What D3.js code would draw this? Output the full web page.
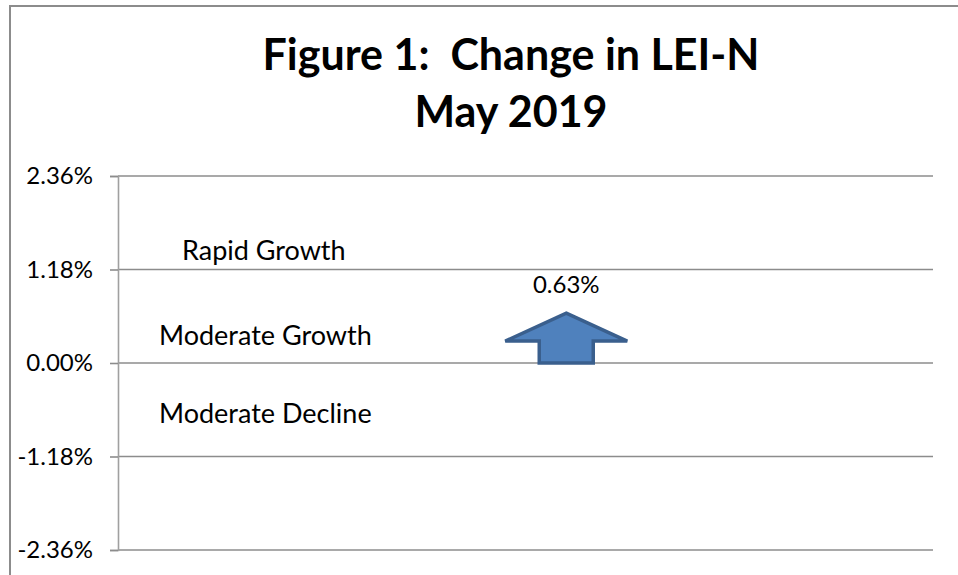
<!DOCTYPE html>
<html>
<head>
<meta charset="utf-8">
<script src="https://cdn.jsdelivr.net/npm/d3@7"></script>
<style>
  body { margin: 0; background: #fff; }
  text { font-family: Lato, "Open Sans", sans-serif; fill: #000; white-space: pre; }
</style>
</head>
<body>
<svg id="chart" width="958" height="575"></svg>
<script>
// chart values
const titleLines = ["Figure 1:  Change in LEI-N", "May 2019"];
const tickValues = [2.36, 1.18, 0, -1.18, -2.36];
const zoneLabels = ["Rapid Growth", "Moderate Growth", "Moderate Decline"];
const zoneValues = [1.3, 0.23, -0.76];
const changeValue = [0.63];
const changePos = [0.55];

const width = 958, height = 575;
const margin = {top: 176, right: 25, bottom: 25, left: 118};

const svg = d3.select("#chart");

// outer frame (only left/top are in view)
svg.append("path")
    .attr("d", "M10," + height + "V6H" + width)
    .attr("fill", "none")
    .attr("stroke", "#8c8c8c")
    .attr("stroke-width", 2);

const y = d3.scaleLinear()
    .domain([-2.36, 2.36])
    .range([550, margin.top]);
const x = d3.scaleLinear()
    .domain([0, 1])
    .range([margin.left, width - margin.right]);

// title
svg.append("g").selectAll("text")
    .data(titleLines)
    .enter().append("text")
    .attr("x", 511)
    .attr("y", (d, i) => 70 + i * 57)
    .attr("text-anchor", "middle")
    .style("font-size", "43px")
    .style("font-weight", "bold")
    .text(d => d);

// gridlines
svg.append("g").selectAll("line")
    .data(tickValues)
    .enter().append("line")
    .attr("x1", x(0))
    .attr("x2", x(1))
    .attr("y1", d => y(d))
    .attr("y2", d => y(d))
    .attr("stroke", "#8c8c8c")
    .attr("stroke-width", 1.6);

// y axis
const yAxis = svg.append("g")
    .attr("transform", "translate(" + margin.left + ",0)")
    .call(d3.axisLeft(y)
        .tickValues(tickValues)
        .tickFormat(d => d.toFixed(2) + "%")
        .tickSize(8)
        .tickPadding(17));
yAxis.select(".domain").attr("stroke", "#a0a0a0").attr("stroke-width", 1.6);
yAxis.selectAll(".tick line").attr("stroke", "#8c8c8c").attr("stroke-width", 1.6);
yAxis.selectAll(".tick text")
    .style("font-size", "24px")
    .style("font-family", "Lato, sans-serif")
    .attr("fill", "#000");

// zone labels
svg.append("g").selectAll("text")
    .data(zoneLabels)
    .enter().append("text")
    .attr("x", (d, i) => i === 0 ? 182 : 159)
    .attr("y", (d, i) => y(zoneValues[i]))
    .style("font-size", "27px")
    .text(d => d);

// arrow for the change
const headHalf = 61, headH = 28, shaftHalf = 27;
svg.append("g").selectAll("path")
    .data(changeValue)
    .enter().append("path")
    .attr("d", (d, i) => {
        const cx = x(changePos[i]), tip = y(d), base = y(0);
        return "M" + cx + "," + tip +
            "L" + (cx + headHalf) + "," + (tip + headH) +
            "L" + (cx + shaftHalf) + "," + (tip + headH) +
            "L" + (cx + shaftHalf) + "," + base +
            "L" + (cx - shaftHalf) + "," + base +
            "L" + (cx - shaftHalf) + "," + (tip + headH) +
            "L" + (cx - headHalf) + "," + (tip + headH) + "Z";
    })
    .attr("fill", "#4f81bd")
    .attr("stroke", "#3a5f8d")
    .attr("stroke-width", 3.5)
    .attr("stroke-linejoin", "miter");

svg.append("g").selectAll("text")
    .data(changeValue)
    .enter().append("text")
    .attr("x", (d, i) => x(changePos[i]))
    .attr("y", d => y(d) - 20)
    .attr("text-anchor", "middle")
    .style("font-size", "24px")
    .text(d => d.toFixed(2) + "%");
</script>
</body>
</html>
